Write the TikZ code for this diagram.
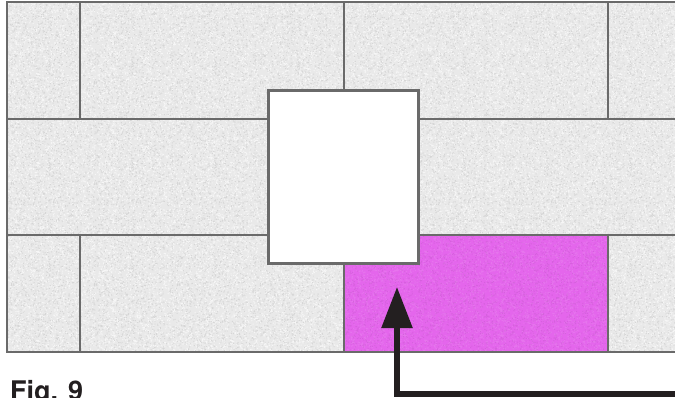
\documentclass[tikz,border=0pt]{standalone}
\usepackage{fontspec}
\setmainfont{TeX Gyre Heros}
\usetikzlibrary{arrows.meta,patterns}
\definecolor{brickfill}{HTML}{E9E9E9}
\definecolor{brickline}{HTML}{6A6A6A}
\definecolor{pinkfill}{HTML}{E466EC}
\definecolor{arrowink}{HTML}{231F20}
\pgfmathsetseed{4242}
\pgfdeclarepatternformonly{grainA}{\pgfqpoint{0pt}{0pt}}{\pgfqpoint{97pt}{89pt}}{\pgfqpoint{97pt}{89pt}}{%
  \foreach \n in {1,...,1500}{%
    \pgfmathsetmacro{\sx}{96*rnd}%
    \pgfmathsetmacro{\sy}{88*rnd}%
    \pgfpathrectangle{\pgfqpoint{\sx pt}{\sy pt}}{\pgfqpoint{1pt}{1pt}}%
  }%
  \pgfusepath{fill}%
}
\pgfdeclarepatternformonly{grainB}{\pgfqpoint{0pt}{0pt}}{\pgfqpoint{83pt}{101pt}}{\pgfqpoint{83pt}{101pt}}{%
  \foreach \n in {1,...,1000}{%
    \pgfmathsetmacro{\sx}{82*rnd}%
    \pgfmathsetmacro{\sy}{100*rnd}%
    \pgfpathrectangle{\pgfqpoint{\sx pt}{\sy pt}}{\pgfqpoint{1pt}{1pt}}%
  }%
  \pgfusepath{fill}%
}
\tikzset{
  brickbase/.style={fill=brickfill},
  pinkbase/.style={fill=pinkfill},
  brickedge/.style={draw=brickline,line width=2.8pt},
  opening/.style={draw=brickline,line width=3pt,fill=white},
  pointer/.style={draw=arrowink,line width=5.5pt,-{Triangle[length=41pt,width=30pt,inset=0pt]}},
  caption/.style={anchor=base west,inner sep=0pt,text=arrowink,font=\fontsize{27}{27}\selectfont\bfseries}
}
\begin{document}
\begin{tikzpicture}[x=1pt,y=-1pt]
\useasboundingbox (0,0) rectangle (675,398);
\clip (0,0) rectangle (675,398);
\fill[white] (0,0) rectangle (675,398);
\fill[brickbase] (7,2) rectangle (690,352);
% fine grain on the grey bricks
\fill[pattern=grainA,pattern color=white,fill opacity=.6] (7,2) rectangle (690,352);
\fill[pattern=grainB,pattern color=black,fill opacity=.08] (7,2) rectangle (690,352);
% pink brick with a much fainter grain
\fill[pinkbase] (344,235) rectangle (608,352);
\fill[pattern=grainA,pattern color=white,fill opacity=.1] (344,235) rectangle (608,352);
\fill[pattern=grainB,pattern color=black,fill opacity=.06] (344,235) rectangle (608,352);
% row 1
\draw[brickedge] (7,2) rectangle (80,119);
\draw[brickedge] (80,2) rectangle (344,119);
\draw[brickedge] (344,2) rectangle (608,119);
\draw[brickedge] (608,2) rectangle (690,119);
% row 2
\draw[brickedge] (7,119) rectangle (344,235);
\draw[brickedge] (344,119) rectangle (690,235);
% row 3
\draw[brickedge] (7,235) rectangle (80,352);
\draw[brickedge] (80,235) rectangle (344,352);
\draw[brickedge] (344,235) rectangle (608,352);
\draw[brickedge] (608,235) rectangle (690,352);
% opening
\draw[opening] (268.5,91) rectangle (418.5,264);
% pointer
\coordinate (pstart) at (690,394);
\coordinate (pbend) at (397,394);
\coordinate (ptip) at (397,287);
\draw[pointer] (pstart) -- (pbend) -- (ptip);
% caption
\node[caption] (figlabel) at (10,400.5) {Fig. 9};
\end{tikzpicture}
\end{document}
